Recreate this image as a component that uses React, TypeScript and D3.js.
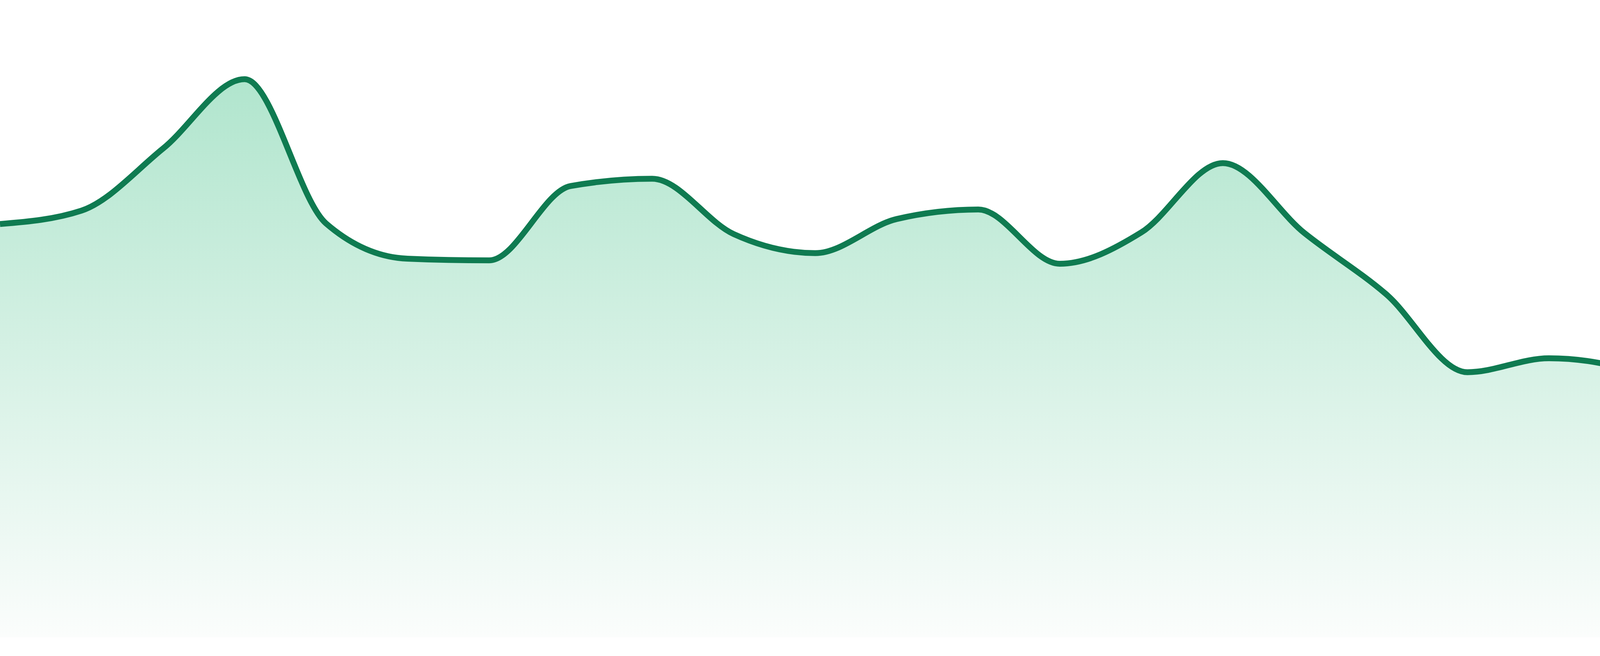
import React from "react";
import * as d3 from "d3";

const W = 4800;
const H = 1680;

const categories: number[] = Array.from({ length: 24 }, (_, i) => i);
const values: number[] = [
  73.9, 76.3, 87.4, 99.8, 74.0, 67.7, 67.4, 80.7, 82.0, 72.1, 68.7, 74.8,
  76.5, 66.8, 72.4, 84.8, 72.3, 61.4, 47.4, 49.9, 47.7, 37.6, 44.3, 42.9,
];
const yDomain: [number, number] = [0, 100];

const LINE_COLOR = "#0f7b51";
const GRAD_TOP = "#b0e5cd";
const GRAD_BOTTOM = "#fbfdfc";

export default function App() {
  const x = d3
    .scaleLinear()
    .domain([categories[0], categories[categories.length - 1]])
    .range([0, W]);
  const y = d3.scaleLinear().domain(yDomain).range([1632, 200]);

  const data = categories.map((c, i) => ({ c, v: values[i] }));

  const area = d3
    .area<{ c: number; v: number }>()
    .x((d) => x(d.c))
    .y0(y(0))
    .y1((d) => y(d.v))
    .curve(d3.curveMonotoneX);

  const line = d3
    .line<{ c: number; v: number }>()
    .x((d) => x(d.c))
    .y((d) => y(d.v))
    .curve(d3.curveMonotoneX);

  const topY = y(d3.max(values) as number) - 10;

  return (
    <>
      <style>{`html,body{margin:0;padding:0;background:#fff;}`}</style>
      <svg
        width={W}
        height={H}
        viewBox={`0 0 ${W} ${H}`}
        style={{ display: "block" }}
      >
        <defs>
          <linearGradient
            id="fillGrad"
            gradientUnits="userSpaceOnUse"
            x1={0}
            x2={0}
            y1={topY}
            y2={y(0)}
          >
            <stop offset="0%" stopColor={GRAD_TOP} />
            <stop offset="100%" stopColor={GRAD_BOTTOM} />
          </linearGradient>
        </defs>
        <path d={area(data) || ""} fill="url(#fillGrad)" />
        <path
          d={line(data) || ""}
          fill="none"
          stroke={LINE_COLOR}
          strokeWidth={15}
          strokeLinejoin="round"
        />
      </svg>
    </>
  );
}
